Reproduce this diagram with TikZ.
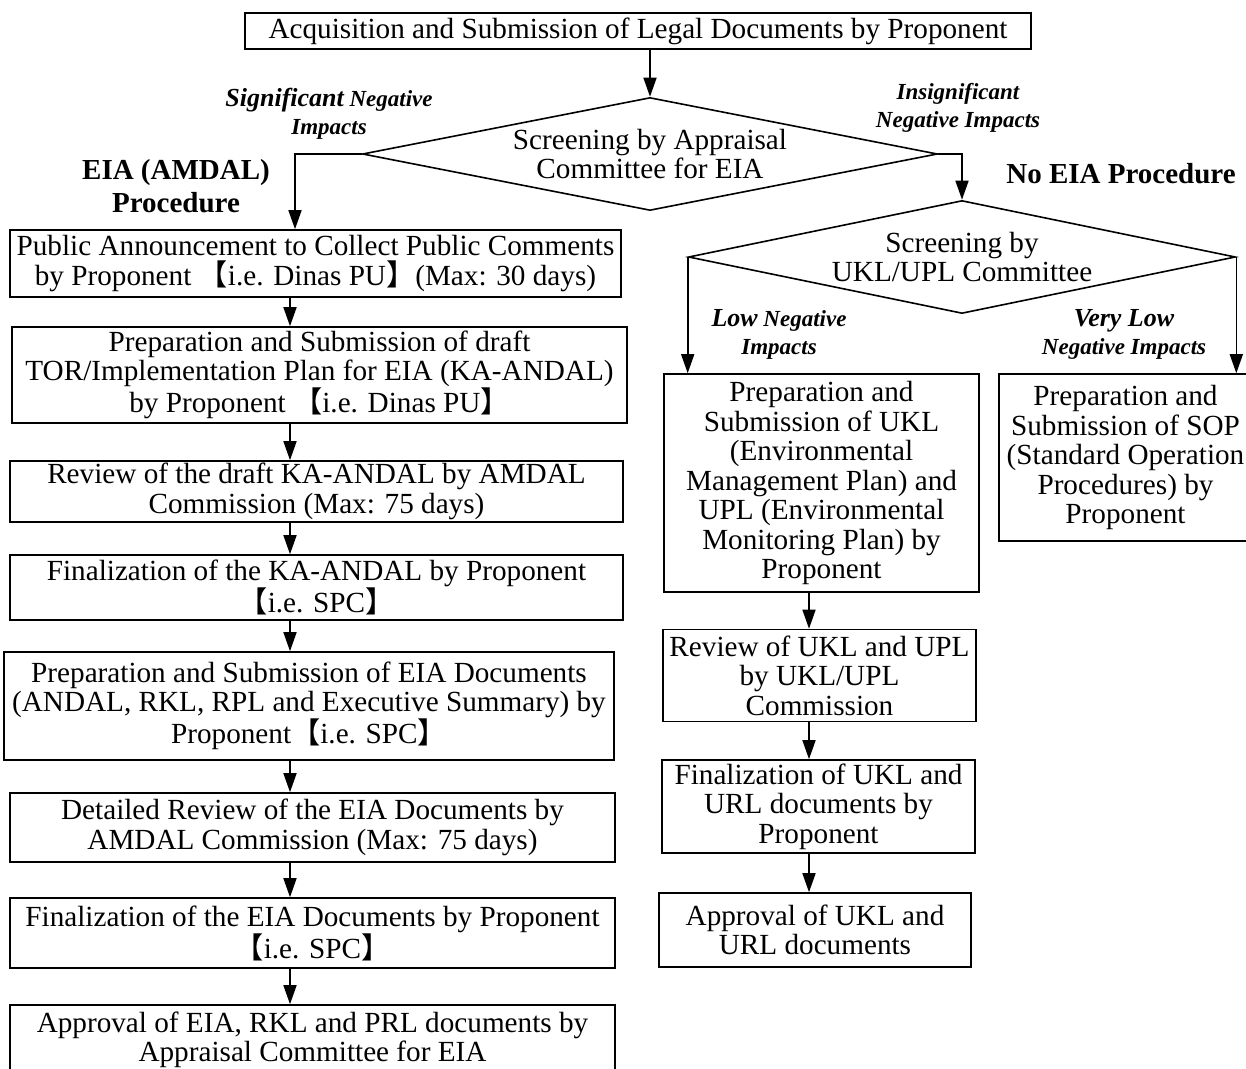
\documentclass[tikz,border=0pt]{standalone}
\usepackage{fontspec}
\setmainfont{Liberation Serif}
\newfontfamily\cjk{Noto Sans CJK SC}
\usetikzlibrary{shapes.geometric, arrows.meta}
\newcommand{\opbr}{{\cjk 【}}
\newcommand{\clbr}{{\cjk 】}}

\begin{document}
\begin{tikzpicture}[x=1pt, y=-1pt,
    box/.style={draw, line width=1.6pt, align=center, inner sep=1pt,
      font=\fontsize{29.2}{29.5}\selectfont},
    dmd/.style={diamond, draw, line width=1.6pt, align=center, inner sep=0pt,
      font=\fontsize{29.2}{29.5}\selectfont},
    lbl/.style={align=center, font=\bfseries\itshape\fontsize{23}{28}\selectfont},
    hdr/.style={align=center, font=\bfseries\fontsize{29}{33}\selectfont},
    arr/.style={-{Triangle[length=19pt,width=13pt]}, line width=1.6pt}]
        \useasboundingbox (0,0) rectangle (1246,1068);
        \clip (0,0) rectangle (1246,1068);

        % Start and screening
        \node[box, minimum width=786pt, minimum height=36pt] (src) at (638,31) {Acquisition and Submission of Legal Documents by Proponent};
        \node[dmd, aspect=5.1, minimum width=575pt, minimum height=113pt] (scr1) at (650,154) {Screening by Appraisal\\Committee for EIA};
        \node[dmd, aspect=4.84, minimum width=547pt, minimum height=113pt] (scr2) at (962,257) {Screening by\\UKL/UPL Committee};

        % EIA (AMDAL) column
        \node[box, minimum width=611pt, minimum height=67pt] (pub) at (315.5,263.5) {Public Announcement to Collect Public Comments\\by Proponent \opbr i.e. Dinas PU\clbr(Max: 30 days)};
        \node[box, minimum width=615pt, minimum height=96pt] (tor) at (319.5,375) {Preparation and Submission of draft\\TOR/Implementation Plan for EIA (KA-ANDAL)\\by Proponent \opbr i.e. Dinas PU\clbr};
        \node[box, minimum width=613pt, minimum height=61pt] (rka) at (316.5,491.5) {Review of the draft KA-ANDAL by AMDAL\\Commission (Max: 75 days)};
        \node[box, minimum width=613pt, minimum height=65pt] (fka) at (316.5,587.5) {Finalization of the KA-ANDAL by Proponent\\\opbr i.e. SPC\clbr};
        \node[box, minimum width=610pt, minimum height=108pt] (eia) at (309,706) {Preparation and Submission of EIA Documents\\(ANDAL, RKL, RPL and Executive Summary) by\\Proponent\opbr i.e. SPC\clbr};
        \node[box, minimum width=605pt, minimum height=69pt] (rev) at (312.5,827.5) {Detailed Review of the EIA Documents by\\AMDAL Commission (Max: 75 days)};
        \node[box, minimum width=605pt, minimum height=70pt] (fin) at (312.5,933) {Finalization of the EIA Documents by Proponent\\\opbr i.e. SPC\clbr};
        \node[box, minimum width=605pt, minimum height=70pt] (apr) at (312.5,1040) {Approval of EIA, RKL and PRL documents by\\Appraisal Committee for EIA};

        % UKL/UPL column
        \node[box, minimum width=315pt, minimum height=218pt] (ukl) at (821.5,483) {Preparation and\\Submission of UKL\\(Environmental\\Management Plan) and\\UPL (Environmental\\Monitoring Plan) by\\Proponent};
        \node[box, minimum width=253pt, minimum height=167pt] (sop) at (1125.5,457.5) {Preparation and\\Submission of SOP\\(Standard Operation\\Procedures) by\\Proponent};
        \node[box, minimum width=313pt, minimum height=92pt] (rukl) at (819.5,675.5) {Review of UKL and UPL\\by UKL/UPL\\Commission};
        \node[box, minimum width=313pt, minimum height=93pt] (fukl) at (818.5,806.5) {Finalization of UKL and\\URL documents by\\Proponent};
        \node[box, minimum width=312pt, minimum height=74pt] (aukl) at (815,930) {Approval of UKL and\\URL documents};

        % Branch labels
        \node[lbl] (sig) at (329,114) {{\fontsize{26}{28}\selectfont Significant} Negative\\Impacts};
        \node[lbl] (ins) at (958,107.5) {Insignificant\\Negative Impacts};
        \node[lbl] (low) at (779,334) {{\fontsize{26}{28}\selectfont Low} Negative\\Impacts};
        \node[lbl] (vlow) at (1124,334) {{\fontsize{26}{28}\selectfont Very Low}\\Negative Impacts};
        \node[hdr] (eiap) at (176,186.5) {EIA (AMDAL)\\Procedure};
        \node[hdr] (noeia) at (1121,174) {No EIA Procedure};

        % Connectors
        \coordinate (lx) at (295,0);
        \coordinate (ax) at (290,0);
        \coordinate (rx) at (809,0);
        \draw[arr] (scr1.north |- src.south) -- (scr1.north);
        \draw[arr] (scr1.west) -| (pub.north -| lx);
        \draw[arr] (scr1.east) -| (scr2.north);
        \draw[arr] (scr2.west) -- (scr2.west |- ukl.north);
        \draw[arr] (scr2.east) -- (scr2.east |- sop.north);
        \foreach \a/\b in {pub/tor, tor/rka, rka/fka, fka/eia, eia/rev, rev/fin, fin/apr}
            \draw[arr] (\a.south -| ax) -- (\b.north -| ax);
        \foreach \a/\b in {ukl/rukl, rukl/fukl, fukl/aukl}
            \draw[arr] (\a.south -| rx) -- (\b.north -| rx);
\end{tikzpicture}
\end{document}
